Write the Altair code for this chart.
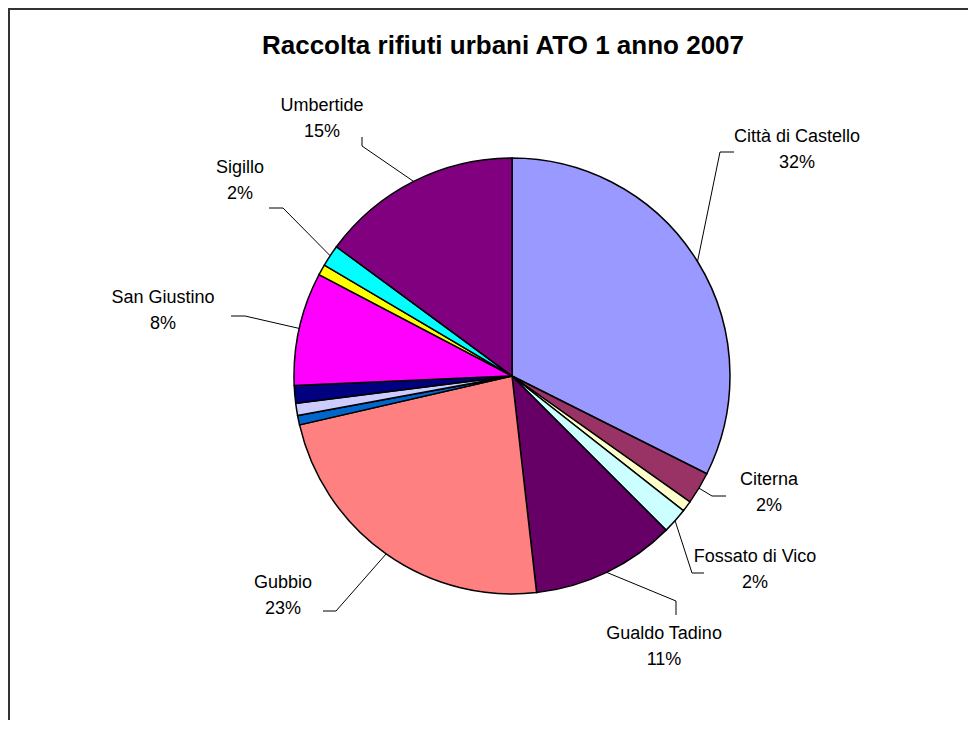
import math
import altair as alt
import pandas as pd

# ---------------- data ----------------
titolo = "Raccolta rifiuti urbani ATO 1 anno 2007"
comuni = [
    "Città di Castello", "Citerna", "Costacciaro", "Fossato di Vico",
    "Gualdo Tadino", "Gubbio", "Lisciano Niccone", "Montone",
    "Pietralunga", "San Giustino", "Scheggia e Pascelupo", "Sigillo", "Umbertide",
]
quote = [32.4, 2.4, 0.8, 1.9, 10.7, 23.2, 0.7, 0.9, 1.3, 8.4, 0.8, 1.6, 14.9]
etichetta = [True, True, False, True, True, True, False, False, False, True, False, True, True]
colori = [
    "#9999FF", "#993366", "#FFFFCC", "#CCFFFF", "#660066", "#FF8080", "#0066CC",
    "#CCCCFF", "#000080", "#FF00FF", "#FFFF00", "#00FFFF", "#800080",
]

# ---------------- layout (page pixels) ----------------
W, H = 960, 712
OFF = 8
CX, CY = 512 - OFF, 376 - OFF
R = 218
FONT = "Liberation Sans"
# centre of each two-line label
pos_etichetta = {
    "Città di Castello": (797, 150),
    "Citerna": (769, 493),
    "Fossato di Vico": (755, 570),
    "Gualdo Tadino": (664, 647),
    "Gubbio": (283, 596),
    "San Giustino": (163, 311),
    "Sigillo": (240, 181),
    "Umbertide": (322, 119),
}
# elbow and end of each leader line
gomito = {
    "Città di Castello": [(720, 152), (734, 152)],
    "Citerna": [(712, 496), (726, 496)],
    "Fossato di Vico": [(692, 573), (704, 573)],
    "Gualdo Tadino": [(676, 601), (676, 615)],
    "Gubbio": [(336, 611), (323, 611)],
    "San Giustino": [(245, 316), (231, 316)],
    "Sigillo": [(283, 208), (269, 208)],
    "Umbertide": [(362, 146), (362, 137)],
}

df = pd.DataFrame({"comune": comuni, "quota": quote, "ordine": range(len(comuni))})

# label texts and leader lines derived from the slice angles
tot = sum(quote)
righe_txt, righe_lin = [], []
acc = 0.0
for nome, q, lab in zip(comuni, quote, etichetta):
    mid = (acc + q / 2) / tot * 2 * math.pi
    acc += q
    if not lab:
        continue
    lx, ly = pos_etichetta[nome]
    pct = f"{round(q / tot * 100)}%"
    righe_txt.append({"t": nome, "x": lx - OFF, "y": ly - OFF - 13})
    righe_txt.append({"t": pct, "x": lx - OFF, "y": ly - OFF + 13})
    ex = CX + R * math.sin(mid)
    ey = CY - R * math.cos(mid)
    punti = [(ex, ey)] + [(a - OFF, b - OFF) for a, b in gomito[nome]]
    for i, (px, py) in enumerate(punti):
        righe_lin.append({"nome": nome, "i": i, "x": px, "y": py})

txt_df = pd.DataFrame(righe_txt)
lin_df = pd.DataFrame(righe_lin)

xs = alt.Scale(domain=[0, W], nice=False, zero=False)
ys = alt.Scale(domain=[0, H], nice=False, zero=False, reverse=True)

pie = alt.Chart(df).mark_arc(
    outerRadius=R, x=CX, y=CY, stroke="black", strokeWidth=1.5
).encode(
    theta=alt.Theta("quota:Q", stack=True),
    order=alt.Order("ordine:Q"),
    color=alt.Color("comune:N", scale=alt.Scale(domain=comuni, range=colori), legend=None),
)

linee = alt.Chart(lin_df).mark_line(color="black", strokeWidth=1).encode(
    x=alt.X("x:Q", scale=xs, axis=None),
    y=alt.Y("y:Q", scale=ys, axis=None),
    detail="nome:N",
    order="i:Q",
)

testi = alt.Chart(txt_df).mark_text(
    font=FONT, fontSize=18, color="black", align="center", baseline="middle"
).encode(
    x=alt.X("x:Q", scale=xs, axis=None),
    y=alt.Y("y:Q", scale=ys, axis=None),
    text="t:N",
)

titolo_df = pd.DataFrame({"t": [titolo]})
tit = alt.Chart(titolo_df).mark_text(
    font=FONT, fontSize=26, fontWeight="bold", color="black", align="center", baseline="middle"
).encode(x=alt.value(503 - OFF), y=alt.value(46 - OFF), text="t:N")

bordo_df = pd.DataFrame({"k": [0]})
bordo_sx = alt.Chart(bordo_df).mark_rule(color="#333333", strokeWidth=2).encode(
    x=alt.value(1), y=alt.value(0), y2=alt.value(H)
)
bordo_top = alt.Chart(bordo_df).mark_rule(color="#333333", strokeWidth=2).encode(
    x=alt.value(0), x2=alt.value(W), y=alt.value(1)
)

chart = alt.layer(pie, linee, testi, tit, bordo_sx, bordo_top).properties(
    width=W, height=H, padding=0, autosize=alt.AutoSizeParams(type="none")
).configure_view(strokeWidth=0)

chart.save("out.html", embed_options={"renderer": "svg", "actions": False})
